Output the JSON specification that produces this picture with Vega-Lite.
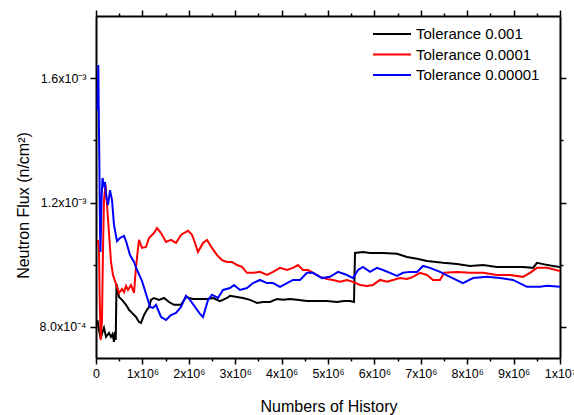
{
  "$schema": "https://vega.github.io/schema/vega-lite/v6.json",
  "width": 464,
  "height": 342,
  "autosize": {"type": "none"},
  "padding": {"left": 96, "top": 16, "right": 14, "bottom": 57},
  "background": "white",
  "config": {
    "view": {"stroke": null},
    "font": "Liberation Sans",
    "axis": {
      "grid": false,
      "domainColor": "black",
      "domainWidth": 2,
      "tickColor": "black",
      "tickWidth": 1.5,
      "labelColor": "black",
      "labelFont": "Liberation Sans",
      "labelFontSize": 12.5,
      "labelOverlap": false,
      "labelFlush": false,
      "titleFont": "Liberation Sans",
      "titleFontSize": 16,
      "titleFontWeight": "normal",
      "titleColor": "black"
    }
  },
  "data": {
    "values": [
      {"series": "Tolerance 0.001", "history": 32000, "flux": 0.000822},
      {"series": "Tolerance 0.001", "history": 65000, "flux": 0.000790},
      {"series": "Tolerance 0.001", "history": 101000, "flux": 0.000764},
      {"series": "Tolerance 0.001", "history": 140000, "flux": 0.000784},
      {"series": "Tolerance 0.001", "history": 172000, "flux": 0.000797},
      {"series": "Tolerance 0.001", "history": 216000, "flux": 0.000768},
      {"series": "Tolerance 0.001", "history": 280000, "flux": 0.000781},
      {"series": "Tolerance 0.001", "history": 323000, "flux": 0.000768},
      {"series": "Tolerance 0.001", "history": 356000, "flux": 0.000777},
      {"series": "Tolerance 0.001", "history": 388000, "flux": 0.000752},
      {"series": "Tolerance 0.001", "history": 409000, "flux": 0.000784},
      {"series": "Tolerance 0.001", "history": 425000, "flux": 0.000758},
      {"series": "Tolerance 0.001", "history": 442000, "flux": 0.000938},
      {"series": "Tolerance 0.001", "history": 496000, "flux": 0.000896},
      {"series": "Tolerance 0.001", "history": 560000, "flux": 0.000887},
      {"series": "Tolerance 0.001", "history": 647000, "flux": 0.000871},
      {"series": "Tolerance 0.001", "history": 711000, "flux": 0.000855},
      {"series": "Tolerance 0.001", "history": 776000, "flux": 0.000845},
      {"series": "Tolerance 0.001", "history": 862000, "flux": 0.000832},
      {"series": "Tolerance 0.001", "history": 927000, "flux": 0.000816},
      {"series": "Tolerance 0.001", "history": 970000, "flux": 0.000813},
      {"series": "Tolerance 0.001", "history": 1034000, "flux": 0.000838},
      {"series": "Tolerance 0.001", "history": 1099000, "flux": 0.000855},
      {"series": "Tolerance 0.001", "history": 1142000, "flux": 0.000864},
      {"series": "Tolerance 0.001", "history": 1185000, "flux": 0.000887},
      {"series": "Tolerance 0.001", "history": 1250000, "flux": 0.000893},
      {"series": "Tolerance 0.001", "history": 1358000, "flux": 0.000887},
      {"series": "Tolerance 0.001", "history": 1466000, "flux": 0.000893},
      {"series": "Tolerance 0.001", "history": 1573000, "flux": 0.000880},
      {"series": "Tolerance 0.001", "history": 1681000, "flux": 0.000871},
      {"series": "Tolerance 0.001", "history": 1832000, "flux": 0.000871},
      {"series": "Tolerance 0.001", "history": 1940000, "flux": 0.000896},
      {"series": "Tolerance 0.001", "history": 2091000, "flux": 0.000890},
      {"series": "Tolerance 0.001", "history": 2241000, "flux": 0.000890},
      {"series": "Tolerance 0.001", "history": 2392000, "flux": 0.000890},
      {"series": "Tolerance 0.001", "history": 2522000, "flux": 0.000893},
      {"series": "Tolerance 0.001", "history": 2672000, "flux": 0.000883},
      {"series": "Tolerance 0.001", "history": 2823000, "flux": 0.000893},
      {"series": "Tolerance 0.001", "history": 2888000, "flux": 0.000900},
      {"series": "Tolerance 0.001", "history": 3039000, "flux": 0.000896},
      {"series": "Tolerance 0.001", "history": 3168000, "flux": 0.000893},
      {"series": "Tolerance 0.001", "history": 3319000, "flux": 0.000887},
      {"series": "Tolerance 0.001", "history": 3470000, "flux": 0.000877},
      {"series": "Tolerance 0.001", "history": 3599000, "flux": 0.000880},
      {"series": "Tolerance 0.001", "history": 3750000, "flux": 0.000880},
      {"series": "Tolerance 0.001", "history": 3901000, "flux": 0.000890},
      {"series": "Tolerance 0.001", "history": 4030000, "flux": 0.000887},
      {"series": "Tolerance 0.001", "history": 4181000, "flux": 0.000890},
      {"series": "Tolerance 0.001", "history": 4332000, "flux": 0.000887},
      {"series": "Tolerance 0.001", "history": 4547000, "flux": 0.000883},
      {"series": "Tolerance 0.001", "history": 4763000, "flux": 0.000883},
      {"series": "Tolerance 0.001", "history": 4978000, "flux": 0.000883},
      {"series": "Tolerance 0.001", "history": 5194000, "flux": 0.000880},
      {"series": "Tolerance 0.001", "history": 5345000, "flux": 0.000883},
      {"series": "Tolerance 0.001", "history": 5474000, "flux": 0.000883},
      {"series": "Tolerance 0.001", "history": 5560000, "flux": 0.000880},
      {"series": "Tolerance 0.001", "history": 5582000, "flux": 0.001038},
      {"series": "Tolerance 0.001", "history": 5754000, "flux": 0.001041},
      {"series": "Tolerance 0.001", "history": 5905000, "flux": 0.001038},
      {"series": "Tolerance 0.001", "history": 6185000, "flux": 0.001038},
      {"series": "Tolerance 0.001", "history": 6487000, "flux": 0.001035},
      {"series": "Tolerance 0.001", "history": 6703000, "flux": 0.001025},
      {"series": "Tolerance 0.001", "history": 6918000, "flux": 0.001019},
      {"series": "Tolerance 0.001", "history": 7134000, "flux": 0.001012},
      {"series": "Tolerance 0.001", "history": 7478000, "flux": 0.001006},
      {"series": "Tolerance 0.001", "history": 7780000, "flux": 0.001002},
      {"series": "Tolerance 0.001", "history": 8060000, "flux": 0.000996},
      {"series": "Tolerance 0.001", "history": 8341000, "flux": 0.000999},
      {"series": "Tolerance 0.001", "history": 8642000, "flux": 0.000993},
      {"series": "Tolerance 0.001", "history": 8922000, "flux": 0.000993},
      {"series": "Tolerance 0.001", "history": 9203000, "flux": 0.000993},
      {"series": "Tolerance 0.001", "history": 9418000, "flux": 0.000990},
      {"series": "Tolerance 0.001", "history": 9504000, "flux": 0.001006},
      {"series": "Tolerance 0.001", "history": 9634000, "flux": 0.001002},
      {"series": "Tolerance 0.001", "history": 9849000, "flux": 0.000996},
      {"series": "Tolerance 0.001", "history": 10000000, "flux": 0.000993},

      {"series": "Tolerance 0.0001", "history": 43000, "flux": 0.001080},
      {"series": "Tolerance 0.0001", "history": 65000, "flux": 0.001048},
      {"series": "Tolerance 0.0001", "history": 80000, "flux": 0.000887},
      {"series": "Tolerance 0.0001", "history": 101000, "flux": 0.000758},
      {"series": "Tolerance 0.0001", "history": 129000, "flux": 0.000822},
      {"series": "Tolerance 0.0001", "history": 151000, "flux": 0.001048},
      {"series": "Tolerance 0.0001", "history": 172000, "flux": 0.001208},
      {"series": "Tolerance 0.0001", "history": 205000, "flux": 0.001257},
      {"series": "Tolerance 0.0001", "history": 237000, "flux": 0.001192},
      {"series": "Tolerance 0.0001", "history": 280000, "flux": 0.001102},
      {"series": "Tolerance 0.0001", "history": 323000, "flux": 0.001009},
      {"series": "Tolerance 0.0001", "history": 366000, "flux": 0.000967},
      {"series": "Tolerance 0.0001", "history": 431000, "flux": 0.000938},
      {"series": "Tolerance 0.0001", "history": 496000, "flux": 0.000909},
      {"series": "Tolerance 0.0001", "history": 560000, "flux": 0.000922},
      {"series": "Tolerance 0.0001", "history": 603000, "flux": 0.000912},
      {"series": "Tolerance 0.0001", "history": 647000, "flux": 0.000932},
      {"series": "Tolerance 0.0001", "history": 690000, "flux": 0.000919},
      {"series": "Tolerance 0.0001", "history": 754000, "flux": 0.000935},
      {"series": "Tolerance 0.0001", "history": 819000, "flux": 0.000909},
      {"series": "Tolerance 0.0001", "history": 862000, "flux": 0.000993},
      {"series": "Tolerance 0.0001", "history": 927000, "flux": 0.001080},
      {"series": "Tolerance 0.0001", "history": 991000, "flux": 0.001054},
      {"series": "Tolerance 0.0001", "history": 1078000, "flux": 0.001057},
      {"series": "Tolerance 0.0001", "history": 1142000, "flux": 0.001086},
      {"series": "Tolerance 0.0001", "history": 1250000, "flux": 0.001102},
      {"series": "Tolerance 0.0001", "history": 1315000, "flux": 0.001118},
      {"series": "Tolerance 0.0001", "history": 1401000, "flux": 0.001102},
      {"series": "Tolerance 0.0001", "history": 1509000, "flux": 0.001073},
      {"series": "Tolerance 0.0001", "history": 1616000, "flux": 0.001080},
      {"series": "Tolerance 0.0001", "history": 1724000, "flux": 0.001070},
      {"series": "Tolerance 0.0001", "history": 1832000, "flux": 0.001096},
      {"series": "Tolerance 0.0001", "history": 1897000, "flux": 0.001102},
      {"series": "Tolerance 0.0001", "history": 1983000, "flux": 0.001109},
      {"series": "Tolerance 0.0001", "history": 2069000, "flux": 0.001096},
      {"series": "Tolerance 0.0001", "history": 2134000, "flux": 0.001070},
      {"series": "Tolerance 0.0001", "history": 2198000, "flux": 0.001041},
      {"series": "Tolerance 0.0001", "history": 2306000, "flux": 0.001070},
      {"series": "Tolerance 0.0001", "history": 2392000, "flux": 0.001080},
      {"series": "Tolerance 0.0001", "history": 2500000, "flux": 0.001054},
      {"series": "Tolerance 0.0001", "history": 2608000, "flux": 0.001031},
      {"series": "Tolerance 0.0001", "history": 2716000, "flux": 0.001015},
      {"series": "Tolerance 0.0001", "history": 2823000, "flux": 0.001009},
      {"series": "Tolerance 0.0001", "history": 2931000, "flux": 0.001009},
      {"series": "Tolerance 0.0001", "history": 3039000, "flux": 0.000999},
      {"series": "Tolerance 0.0001", "history": 3147000, "flux": 0.000993},
      {"series": "Tolerance 0.0001", "history": 3254000, "flux": 0.000974},
      {"series": "Tolerance 0.0001", "history": 3384000, "flux": 0.000974},
      {"series": "Tolerance 0.0001", "history": 3534000, "flux": 0.000977},
      {"series": "Tolerance 0.0001", "history": 3685000, "flux": 0.000967},
      {"series": "Tolerance 0.0001", "history": 3815000, "flux": 0.000977},
      {"series": "Tolerance 0.0001", "history": 3966000, "flux": 0.000990},
      {"series": "Tolerance 0.0001", "history": 4116000, "flux": 0.000983},
      {"series": "Tolerance 0.0001", "history": 4246000, "flux": 0.000990},
      {"series": "Tolerance 0.0001", "history": 4353000, "flux": 0.000999},
      {"series": "Tolerance 0.0001", "history": 4461000, "flux": 0.000983},
      {"series": "Tolerance 0.0001", "history": 4569000, "flux": 0.000983},
      {"series": "Tolerance 0.0001", "history": 4677000, "flux": 0.000974},
      {"series": "Tolerance 0.0001", "history": 4828000, "flux": 0.000961},
      {"series": "Tolerance 0.0001", "history": 4978000, "flux": 0.000954},
      {"series": "Tolerance 0.0001", "history": 5108000, "flux": 0.000951},
      {"series": "Tolerance 0.0001", "history": 5259000, "flux": 0.000945},
      {"series": "Tolerance 0.0001", "history": 5409000, "flux": 0.000951},
      {"series": "Tolerance 0.0001", "history": 5539000, "flux": 0.000945},
      {"series": "Tolerance 0.0001", "history": 5690000, "flux": 0.000935},
      {"series": "Tolerance 0.0001", "history": 5841000, "flux": 0.000932},
      {"series": "Tolerance 0.0001", "history": 5970000, "flux": 0.000935},
      {"series": "Tolerance 0.0001", "history": 6121000, "flux": 0.000951},
      {"series": "Tolerance 0.0001", "history": 6272000, "flux": 0.000945},
      {"series": "Tolerance 0.0001", "history": 6401000, "flux": 0.000951},
      {"series": "Tolerance 0.0001", "history": 6552000, "flux": 0.000957},
      {"series": "Tolerance 0.0001", "history": 6703000, "flux": 0.000954},
      {"series": "Tolerance 0.0001", "history": 6832000, "flux": 0.000961},
      {"series": "Tolerance 0.0001", "history": 6983000, "flux": 0.000974},
      {"series": "Tolerance 0.0001", "history": 7134000, "flux": 0.000967},
      {"series": "Tolerance 0.0001", "history": 7263000, "flux": 0.000951},
      {"series": "Tolerance 0.0001", "history": 7414000, "flux": 0.000951},
      {"series": "Tolerance 0.0001", "history": 7500000, "flux": 0.000974},
      {"series": "Tolerance 0.0001", "history": 7780000, "flux": 0.000977},
      {"series": "Tolerance 0.0001", "history": 8060000, "flux": 0.000974},
      {"series": "Tolerance 0.0001", "history": 8341000, "flux": 0.000974},
      {"series": "Tolerance 0.0001", "history": 8642000, "flux": 0.000967},
      {"series": "Tolerance 0.0001", "history": 8922000, "flux": 0.000967},
      {"series": "Tolerance 0.0001", "history": 9203000, "flux": 0.000961},
      {"series": "Tolerance 0.0001", "history": 9353000, "flux": 0.000974},
      {"series": "Tolerance 0.0001", "history": 9504000, "flux": 0.000990},
      {"series": "Tolerance 0.0001", "history": 9720000, "flux": 0.000990},
      {"series": "Tolerance 0.0001", "history": 10000000, "flux": 0.000980},

      {"series": "Tolerance 0.00001", "history": 32000, "flux": 0.001498},
      {"series": "Tolerance 0.00001", "history": 50000, "flux": 0.001642},
      {"series": "Tolerance 0.00001", "history": 58000, "flux": 0.001520},
      {"series": "Tolerance 0.00001", "history": 71000, "flux": 0.001343},
      {"series": "Tolerance 0.00001", "history": 86000, "flux": 0.001112},
      {"series": "Tolerance 0.00001", "history": 97000, "flux": 0.001041},
      {"series": "Tolerance 0.00001", "history": 119000, "flux": 0.001208},
      {"series": "Tolerance 0.00001", "history": 140000, "flux": 0.001279},
      {"series": "Tolerance 0.00001", "history": 172000, "flux": 0.001257},
      {"series": "Tolerance 0.00001", "history": 194000, "flux": 0.001266},
      {"series": "Tolerance 0.00001", "history": 216000, "flux": 0.001224},
      {"series": "Tolerance 0.00001", "history": 259000, "flux": 0.001192},
      {"series": "Tolerance 0.00001", "history": 302000, "flux": 0.001240},
      {"series": "Tolerance 0.00001", "history": 345000, "flux": 0.001208},
      {"series": "Tolerance 0.00001", "history": 388000, "flux": 0.001128},
      {"series": "Tolerance 0.00001", "history": 453000, "flux": 0.001076},
      {"series": "Tolerance 0.00001", "history": 517000, "flux": 0.001086},
      {"series": "Tolerance 0.00001", "history": 603000, "flux": 0.001093},
      {"series": "Tolerance 0.00001", "history": 647000, "flux": 0.001076},
      {"series": "Tolerance 0.00001", "history": 733000, "flux": 0.001031},
      {"series": "Tolerance 0.00001", "history": 819000, "flux": 0.001009},
      {"series": "Tolerance 0.00001", "history": 884000, "flux": 0.000983},
      {"series": "Tolerance 0.00001", "history": 991000, "flux": 0.000948},
      {"series": "Tolerance 0.00001", "history": 1099000, "flux": 0.000896},
      {"series": "Tolerance 0.00001", "history": 1164000, "flux": 0.000864},
      {"series": "Tolerance 0.00001", "history": 1228000, "flux": 0.000861},
      {"series": "Tolerance 0.00001", "history": 1293000, "flux": 0.000871},
      {"series": "Tolerance 0.00001", "history": 1401000, "flux": 0.000832},
      {"series": "Tolerance 0.00001", "history": 1509000, "flux": 0.000822},
      {"series": "Tolerance 0.00001", "history": 1616000, "flux": 0.000838},
      {"series": "Tolerance 0.00001", "history": 1724000, "flux": 0.000845},
      {"series": "Tolerance 0.00001", "history": 1832000, "flux": 0.000864},
      {"series": "Tolerance 0.00001", "history": 1940000, "flux": 0.000900},
      {"series": "Tolerance 0.00001", "history": 2026000, "flux": 0.000887},
      {"series": "Tolerance 0.00001", "history": 2134000, "flux": 0.000864},
      {"series": "Tolerance 0.00001", "history": 2241000, "flux": 0.000842},
      {"series": "Tolerance 0.00001", "history": 2306000, "flux": 0.000832},
      {"series": "Tolerance 0.00001", "history": 2414000, "flux": 0.000887},
      {"series": "Tolerance 0.00001", "history": 2500000, "flux": 0.000903},
      {"series": "Tolerance 0.00001", "history": 2629000, "flux": 0.000893},
      {"series": "Tolerance 0.00001", "history": 2737000, "flux": 0.000919},
      {"series": "Tolerance 0.00001", "history": 2888000, "flux": 0.000925},
      {"series": "Tolerance 0.00001", "history": 2974000, "flux": 0.000935},
      {"series": "Tolerance 0.00001", "history": 3103000, "flux": 0.000919},
      {"series": "Tolerance 0.00001", "history": 3254000, "flux": 0.000925},
      {"series": "Tolerance 0.00001", "history": 3384000, "flux": 0.000941},
      {"series": "Tolerance 0.00001", "history": 3534000, "flux": 0.000951},
      {"series": "Tolerance 0.00001", "history": 3685000, "flux": 0.000941},
      {"series": "Tolerance 0.00001", "history": 3815000, "flux": 0.000941},
      {"series": "Tolerance 0.00001", "history": 3966000, "flux": 0.000929},
      {"series": "Tolerance 0.00001", "history": 4116000, "flux": 0.000941},
      {"series": "Tolerance 0.00001", "history": 4246000, "flux": 0.000951},
      {"series": "Tolerance 0.00001", "history": 4397000, "flux": 0.000951},
      {"series": "Tolerance 0.00001", "history": 4547000, "flux": 0.000974},
      {"series": "Tolerance 0.00001", "history": 4677000, "flux": 0.000974},
      {"series": "Tolerance 0.00001", "history": 4871000, "flux": 0.000957},
      {"series": "Tolerance 0.00001", "history": 5043000, "flux": 0.000961},
      {"series": "Tolerance 0.00001", "history": 5216000, "flux": 0.000977},
      {"series": "Tolerance 0.00001", "history": 5409000, "flux": 0.000967},
      {"series": "Tolerance 0.00001", "history": 5539000, "flux": 0.000957},
      {"series": "Tolerance 0.00001", "history": 5647000, "flux": 0.000983},
      {"series": "Tolerance 0.00001", "history": 5754000, "flux": 0.000993},
      {"series": "Tolerance 0.00001", "history": 5905000, "flux": 0.000977},
      {"series": "Tolerance 0.00001", "history": 6056000, "flux": 0.000990},
      {"series": "Tolerance 0.00001", "history": 6185000, "flux": 0.000983},
      {"series": "Tolerance 0.00001", "history": 6336000, "flux": 0.000974},
      {"series": "Tolerance 0.00001", "history": 6487000, "flux": 0.000964},
      {"series": "Tolerance 0.00001", "history": 6616000, "flux": 0.000974},
      {"series": "Tolerance 0.00001", "history": 6767000, "flux": 0.000977},
      {"series": "Tolerance 0.00001", "history": 6918000, "flux": 0.000977},
      {"series": "Tolerance 0.00001", "history": 7047000, "flux": 0.000996},
      {"series": "Tolerance 0.00001", "history": 7198000, "flux": 0.000990},
      {"series": "Tolerance 0.00001", "history": 7414000, "flux": 0.000977},
      {"series": "Tolerance 0.00001", "history": 7629000, "flux": 0.000961},
      {"series": "Tolerance 0.00001", "history": 7909000, "flux": 0.000941},
      {"series": "Tolerance 0.00001", "history": 8125000, "flux": 0.000957},
      {"series": "Tolerance 0.00001", "history": 8427000, "flux": 0.000961},
      {"series": "Tolerance 0.00001", "history": 8707000, "flux": 0.000957},
      {"series": "Tolerance 0.00001", "history": 8987000, "flux": 0.000951},
      {"series": "Tolerance 0.00001", "history": 9289000, "flux": 0.000929},
      {"series": "Tolerance 0.00001", "history": 9569000, "flux": 0.000929},
      {"series": "Tolerance 0.00001", "history": 9720000, "flux": 0.000932},
      {"series": "Tolerance 0.00001", "history": 10000000, "flux": 0.000929}
    ]
  },
  "layer": [
    {
      "mark": {"type": "line", "strokeWidth": 2, "clip": true},
      "encoding": {
        "x": {
          "field": "history",
          "type": "quantitative",
          "scale": {"domain": [0, 10000000], "nice": false, "zero": false},
          "axis": {
            "orient": "bottom",
            "title": "Numbers of History",
            "titleX": 232.5,
            "titleY": 53,
            "titleBaseline": "alphabetic",
            "values": [0, 500000, 1000000, 1500000, 2000000, 2500000, 3000000, 3500000, 4000000, 4500000, 5000000, 5500000, 6000000, 6500000, 7000000, 7500000, 8000000, 8500000, 9000000, 9500000, 10000000],
            "labelExpr": "datum.value == 0 ? '0' : (datum.value % 1000000 == 0 ? (datum.value == 10000000 ? '1x10⁷' : (datum.value / 1000000) + 'x10⁶') : '')",
            "tickSize": {"condition": {"test": "datum.value % 1000000 == 0", "value": 6}, "value": 3},
            "labelPadding": 3
          }
        },
        "y": {
          "field": "flux",
          "type": "quantitative",
          "scale": {"domain": [0.0007, 0.0018], "nice": false, "zero": false},
          "axis": {
            "orient": "left",
            "title": "Neutron Flux (n/cm²)",
            "titleX": -67.5,
            "titleY": 189,
            "titleAngle": -90,
            "titleAlign": "center",
            "titleBaseline": "alphabetic",
            "values": [0.0008, 0.001, 0.0012, 0.0014, 0.0016],
            "labelExpr": "datum.value == 0.0008 ? '8.0x10⁻⁴' : (datum.value == 0.0012 ? '1.2x10⁻³' : (datum.value == 0.0016 ? '1.6x10⁻³' : ''))",
            "tickSize": {"condition": {"test": "datum.value == 0.0008 || datum.value == 0.0012 || datum.value == 0.0016", "value": 6}, "value": 3},
            "labelPadding": 4
          }
        },
        "color": {
          "field": "series",
          "type": "nominal",
          "scale": {
            "domain": ["Tolerance 0.001", "Tolerance 0.0001", "Tolerance 0.00001"],
            "range": ["#000000", "#ff0000", "#0000ff"]
          },
          "legend": {
            "orient": "none",
            "legendX": 276,
            "legendY": 9,
            "title": null,
            "padding": 0,
            "symbolType": "stroke",
            "symbolSize": 1444,
            "symbolStrokeWidth": 2,
            "clipHeight": 18,
            "rowPadding": 2.5,
            "labelOffset": 4,
            "labelFont": "Liberation Sans",
            "labelFontSize": 15,
            "labelColor": "black"
          }
        }
      }
    },
    {
      "mark": {"type": "line", "opacity": 0},
      "encoding": {
        "x": {
          "field": "history",
          "type": "quantitative",
          "axis": {
            "orient": "top",
            "title": null,
            "labels": false,
            "values": [0, 500000, 1000000, 1500000, 2000000, 2500000, 3000000, 3500000, 4000000, 4500000, 5000000, 5500000, 6000000, 6500000, 7000000, 7500000, 8000000, 8500000, 9000000, 9500000, 10000000],
            "tickSize": {"condition": {"test": "datum.value % 1000000 == 0", "value": 6}, "value": 3}
          }
        },
        "y": {
          "field": "flux",
          "type": "quantitative",
          "axis": {
            "orient": "right",
            "title": null,
            "labels": false,
            "values": [0.0008, 0.001, 0.0012, 0.0014, 0.0016],
            "tickSize": {"condition": {"test": "datum.value == 0.0008 || datum.value == 0.0012 || datum.value == 0.0016", "value": 6}, "value": 3}
          }
        },
        "detail": {"field": "series", "type": "nominal"}
      }
    }
  ],
  "resolve": {"axis": {"x": "independent", "y": "independent"}}
}
